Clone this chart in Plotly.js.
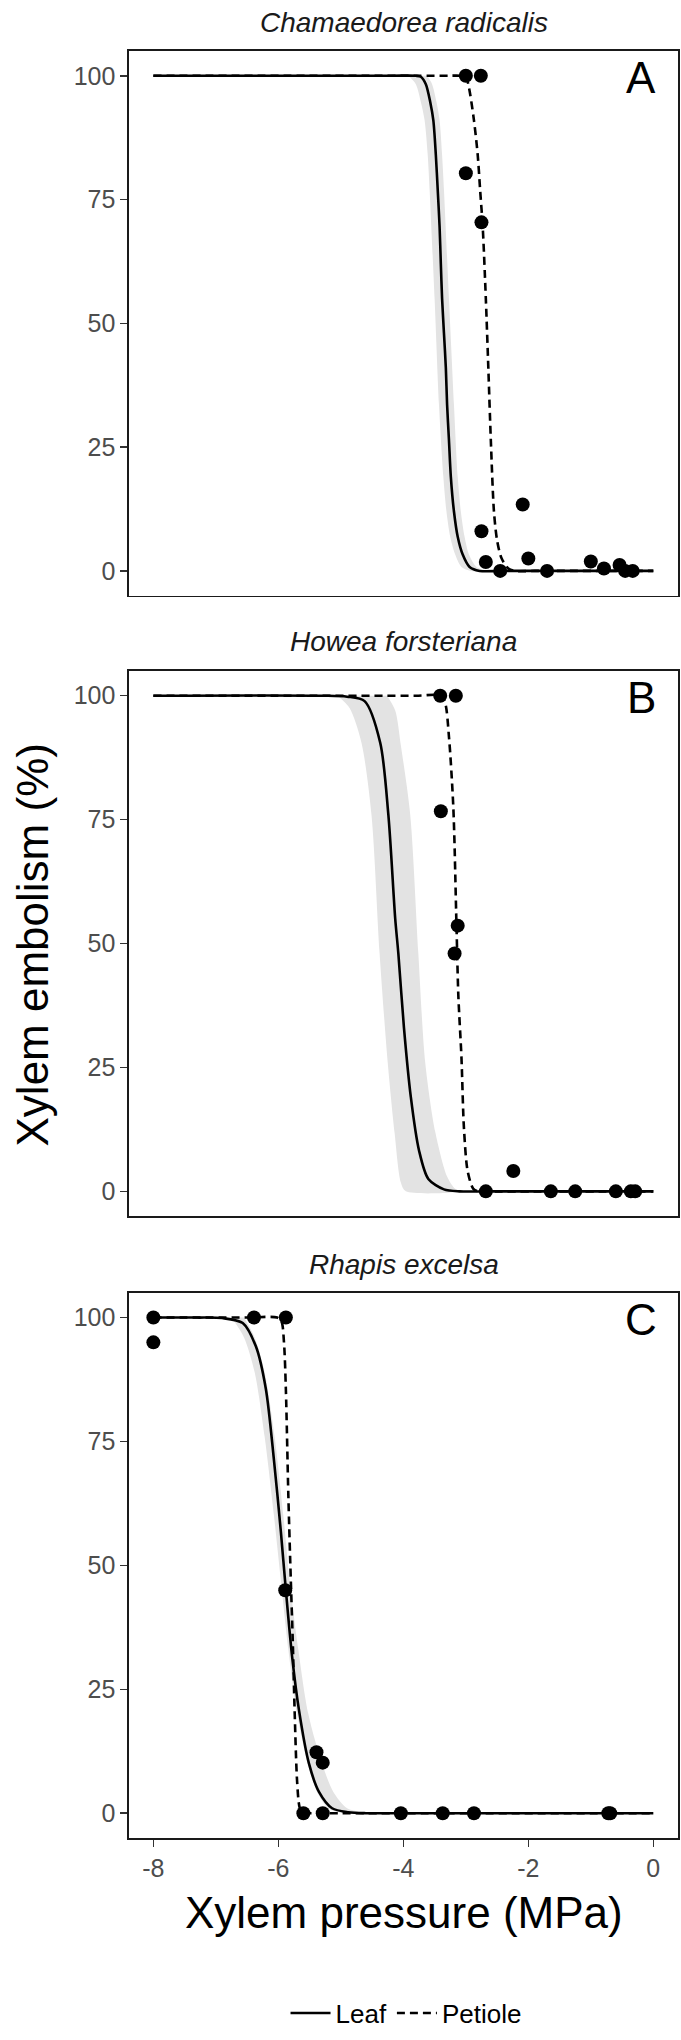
<!DOCTYPE html>
<html>
<head>
<meta charset="utf-8">
<script src="https://cdn.plot.ly/plotly-3.0.1.min.js"></script>
<style>html,body{margin:0;padding:0;background:#fff;}#chart{width:681px;height:2040px;}</style>
</head>
<body>
<div id="chart"></div>
<script>
// ---------- Panel titles / labels ----------
const speciesNames = ["Chamaedorea radicalis", "Howea forsteriana", "Rhapis excelsa"];
const panelLetters = ["A", "B", "C"];
const seriesNames = ["Leaf", "Petiole"];
const xTickVals = [-8, -6, -4, -2, 0];
const yTickVals = [0, 25, 50, 75, 100];

// ---------- Panel A: Chamaedorea radicalis ----------
const A_ptsX = [-3.0, -2.76, -3.0, -2.75, -2.09, -2.75, -2.68, -2.45, -2.0, -1.70, -1.0, -0.79, -0.54, -0.45, -0.33];
const A_ptsY = [100, 100, 80.3, 70.4, 13.4, 8.0, 1.8, 0, 2.5, 0, 1.9, 0.5, 1.2, 0, 0];
const A_leafX = [-8, -4.2, -3.80, -3.72, -3.64, -3.57, -3.52, -3.48, -3.45, -3.42, -3.40, -3.38, -3.35, -3.32, -3.30, -3.27, -3.24, -3.19, -3.13, -3.05, -2.94, -2.78, -2.4, 0];
const A_leafY = [100, 100, 100, 99.8, 98.3, 94.7, 91, 84, 77, 69.5, 62, 55, 48, 41, 33.6, 26.4, 19, 12, 6.9, 3.3, 0.8, 0, 0, 0];
const A_petX = [-8, -3.4, -3.07, -3.00, -2.95, -2.87, -2.81, -2.77, -2.73, -2.68, -2.64, -2.60, -2.55, -2.50, -2.43, -2.32, -2.22, -1.9, 0];
const A_petY = [100, 100, 100, 99.8, 97.6, 91, 84, 76.7, 69.5, 55, 41, 26.4, 12, 6.2, 2.6, 0.5, 0, 0, 0];
const A_bandLoX = [-3.92, -3.80, -3.72, -3.66, -3.61, -3.58, -3.50, -3.43, -3.36, -3.31, -3.25, -3.17, -3.07, -2.92];
const A_bandLoY = [100, 98.3, 94.7, 91, 84, 77, 55, 33.6, 19, 12, 6.9, 3.3, 0.8, 0];
const A_bandHiX = [-3.62, -3.54, -3.47, -3.42, -3.38, -3.35, -3.27, -3.19, -3.13, -3.08, -3.02, -2.95, -2.83, -2.66];
const A_bandHiY = [100, 98.3, 94.7, 91, 84, 77, 55, 33.6, 19, 12, 6.9, 3.3, 0.8, 0];

// ---------- Panel B: Howea forsteriana ----------
const B_ptsX = [-3.41, -3.16, -3.40, -3.13, -3.18, -2.24, -2.68, -1.64, -1.25, -0.60, -0.36, -0.29];
const B_ptsY = [100, 100, 76.7, 53.6, 48.0, 4.1, 0, 0, 0, 0, 0, 0];
const B_leafX = [-8, -5.3, -4.9, -4.62, -4.37, -4.24, -4.13, -4.08, -3.99, -3.88, -3.75, -3.60, -3.35, -3.1, -2.6, 0];
const B_leafY = [100, 100, 99.8, 98.9, 90.5, 76, 55, 48, 33, 19, 8.3, 2.5, 0.4, 0, 0, 0];
const B_petX = [-8, -3.8, -3.40, -3.33, -3.27, -3.20, -3.15, -3.12, -3.07, -3.03, -2.97, -2.88, -2.8, -2.5, 0];
const B_petY = [100, 100, 100, 98.5, 91.7, 77.4, 53.8, 39.5, 27, 12.7, 4, 0.5, 0, 0, 0];
const B_bandLoX = [-5.05, -4.86, -4.67, -4.51, -4.38, -4.25, -4.14, -4.04, -3.96];
const B_bandLoY = [100, 97.5, 90.5, 76, 48, 26, 11.8, 1.8, 0];
const B_bandHiX = [-4.26, -4.13, -4.04, -3.89, -3.76, -3.65, -3.49, -3.30, -3.17, -3.07];
const B_bandHiY = [100, 97, 90, 76, 48, 26, 12, 3, 0.5, 0];

// ---------- Panel C: Rhapis excelsa ----------
const C_ptsX = [-8.0, -8.0, -6.39, -5.88, -5.89, -5.39, -5.29, -5.60, -5.29, -4.04, -3.37, -2.87, -0.72, -0.69];
const C_ptsY = [100, 95, 100, 100, 45, 12.3, 10.2, 0, 0, 0, 0, 0, 0, 0];
const C_leafX = [-8, -7.3, -6.9, -6.57, -6.36, -6.20, -6.07, -5.96, -5.88, -5.78, -5.67, -5.51, -5.35, -5.14, -4.88, -4.6, -4.0, 0];
const C_leafY = [100, 100, 99.9, 98.9, 94.2, 85.6, 71.2, 56.8, 45, 31.6, 20.8, 10, 4.3, 1, 0.2, 0, 0, 0];
const C_petX = [-8, -6.5, -6.02, -5.95, -5.91, -5.88, -5.84, -5.80, -5.77, -5.74, -5.70, -5.66, -5.61, -5.5, -5.0, 0];
const C_petY = [100, 100, 100, 99.2, 95, 85.6, 64, 46.7, 35, 20.8, 6.4, 1.2, 0, 0, 0, 0];
const C_bandLoX = [-6.75, -6.55, -6.38, -6.22, -6.07, -5.96, -5.84, -5.70, -5.53, -5.38, -5.20, -4.95];
const C_bandLoY = [100, 96, 89, 76, 60, 47, 33, 20, 10, 4.3, 1, 0];
const C_bandHiX = [-6.55, -6.38, -6.22, -6.06, -5.92, -5.82, -5.68, -5.52, -5.30, -5.12, -4.90, -4.60];
const C_bandHiY = [100, 96, 89, 76, 60, 47, 33, 20, 10, 4.3, 1, 0];

// ---------- Build ----------
const panels = [
  {pts:[A_ptsX,A_ptsY], leaf:[A_leafX,A_leafY], pet:[A_petX,A_petY], lo:[A_bandLoX,A_bandLoY], hi:[A_bandHiX,A_bandHiY]},
  {pts:[B_ptsX,B_ptsY], leaf:[B_leafX,B_leafY], pet:[B_petX,B_petY], lo:[B_bandLoX,B_bandLoY], hi:[B_bandHiX,B_bandHiY]},
  {pts:[C_ptsX,C_ptsY], leaf:[C_leafX,C_leafY], pet:[C_petX,C_petY], lo:[C_bandLoX,C_bandLoY], hi:[C_bandHiX,C_bandHiY]}
];

const FONT = "Liberation Sans, Arial, sans-serif";
const traces = [];
panels.forEach((p, i) => {
  const xa = i === 0 ? 'x' : 'x' + (i + 1);
  const ya = i === 0 ? 'y' : 'y' + (i + 1);
  traces.push({
    x: p.lo[0].concat(p.hi[0].slice().reverse()),
    y: p.lo[1].concat(p.hi[1].slice().reverse()),
    xaxis: xa, yaxis: ya, type: 'scatter', mode: 'lines',
    fill: 'toself', fillcolor: '#e3e3e3', line: {width: 0, shape: 'spline', smoothing: 0.8},
    hoverinfo: 'skip', showlegend: false
  });
  traces.push({
    x: p.pet[0], y: p.pet[1], xaxis: xa, yaxis: ya, type: 'scatter', mode: 'lines',
    name: seriesNames[1], legendgroup: 'pet', showlegend: i === 0,
    line: {color: '#000', width: 2.6, dash: '8px,5px', shape: 'spline', smoothing: 0.8}
  });
  traces.push({
    x: p.leaf[0], y: p.leaf[1], xaxis: xa, yaxis: ya, type: 'scatter', mode: 'lines',
    name: seriesNames[0], legendgroup: 'leaf', showlegend: i === 0,
    line: {color: '#000', width: 2.6, shape: 'spline', smoothing: 0.8}
  });
  traces.push({
    x: p.pts[0], y: p.pts[1], xaxis: xa, yaxis: ya, type: 'scatter', mode: 'markers',
    marker: {color: '#000', size: 14}, showlegend: false
  });
});

// plot area: left 129px, right 678px, top 51px, bottom 1847px
const domains = [[0.6952, 1.0], [0.3480, 0.6531], [0.0, 0.3051]];
const layout = {
  width: 681, height: 2040,
  margin: {l: 129, r: 3, t: 51, b: 193},
  paper_bgcolor: '#fff', plot_bgcolor: '#fff',
  font: {family: FONT, color: '#000'},
  showlegend: true,
  legend: {
    orientation: 'h', x: 0.5046, xanchor: 'center', y: -0.098, yanchor: 'middle',
    font: {family: FONT, size: 26, color: '#000'}, traceorder: 'reversed',
    itemwidth: 40, tracegroupgap: 0, bgcolor: 'rgba(0,0,0,0)'
  },
  annotations: []
};

for (let i = 0; i < 3; i++) {
  const sfx = i === 0 ? '' : String(i + 1);
  const ya = 'y' + sfx;
  const xa = 'x' + sfx;
  layout['xaxis' + sfx] = {
    anchor: ya, domain: [0, 1], range: [-8.39, 0.395],
    showgrid: false, zeroline: false,
    showline: true, mirror: true, linecolor: '#1a1a1a', linewidth: 1.6,
    ticks: i === 2 ? 'outside' : '', ticklen: 7, tickwidth: 1.5, tickcolor: '#333',
    tickvals: xTickVals, ticktext: xTickVals.map(String),
    showticklabels: i === 2,
    tickfont: {family: FONT, size: 25, color: '#4d4d4d'}
  };
  if (i > 0) layout['xaxis' + sfx].matches = 'x';
  layout['yaxis' + sfx] = {
    anchor: xa, domain: domains[i], range: [-5, 105],
    showgrid: false, zeroline: false,
    showline: true, mirror: true, linecolor: '#1a1a1a', linewidth: 1.6,
    ticks: 'outside', ticklen: 7, tickwidth: 1.5, tickcolor: '#333',
    tickvals: yTickVals, ticktext: yTickVals.map(String),
    tickfont: {family: FONT, size: 25, color: '#4d4d4d'}
  };
  // species title
  layout.annotations.push({
    text: '<i>' + speciesNames[i] + '</i>', xref: 'paper', yref: 'paper',
    x: 0.5, y: [1.0162, 0.6693, 0.3207][i], xanchor: 'center', yanchor: 'middle',
    showarrow: false, font: {family: FONT, size: 28, color: '#1a1a1a'}
  });
  // panel letter
  layout.annotations.push({
    text: panelLetters[i], xref: xa + ' domain', yref: ya + ' domain',
    x: 0.933, y: 0.951, xanchor: 'center', yanchor: 'middle',
    showarrow: false, font: {family: FONT, size: 44, color: '#000'}
  });
}
// axis titles
layout.annotations.push({
  text: 'Xylem pressure (MPa)', xref: 'paper', yref: 'paper',
  x: 0.5, y: -0.0418, xanchor: 'center', yanchor: 'middle',
  showarrow: false, font: {family: FONT, size: 44, color: '#000'}
});
layout.annotations.push({
  text: 'Xylem embolism (%)', xref: 'paper', yref: 'paper',
  x: -0.1749, y: 0.5, xanchor: 'center', yanchor: 'middle', textangle: -90,
  showarrow: false, font: {family: FONT, size: 44, color: '#000'}
});

Plotly.newPlot('chart', traces, layout, {staticPlot: true, displayModeBar: false});
</script>
</body>
</html>
